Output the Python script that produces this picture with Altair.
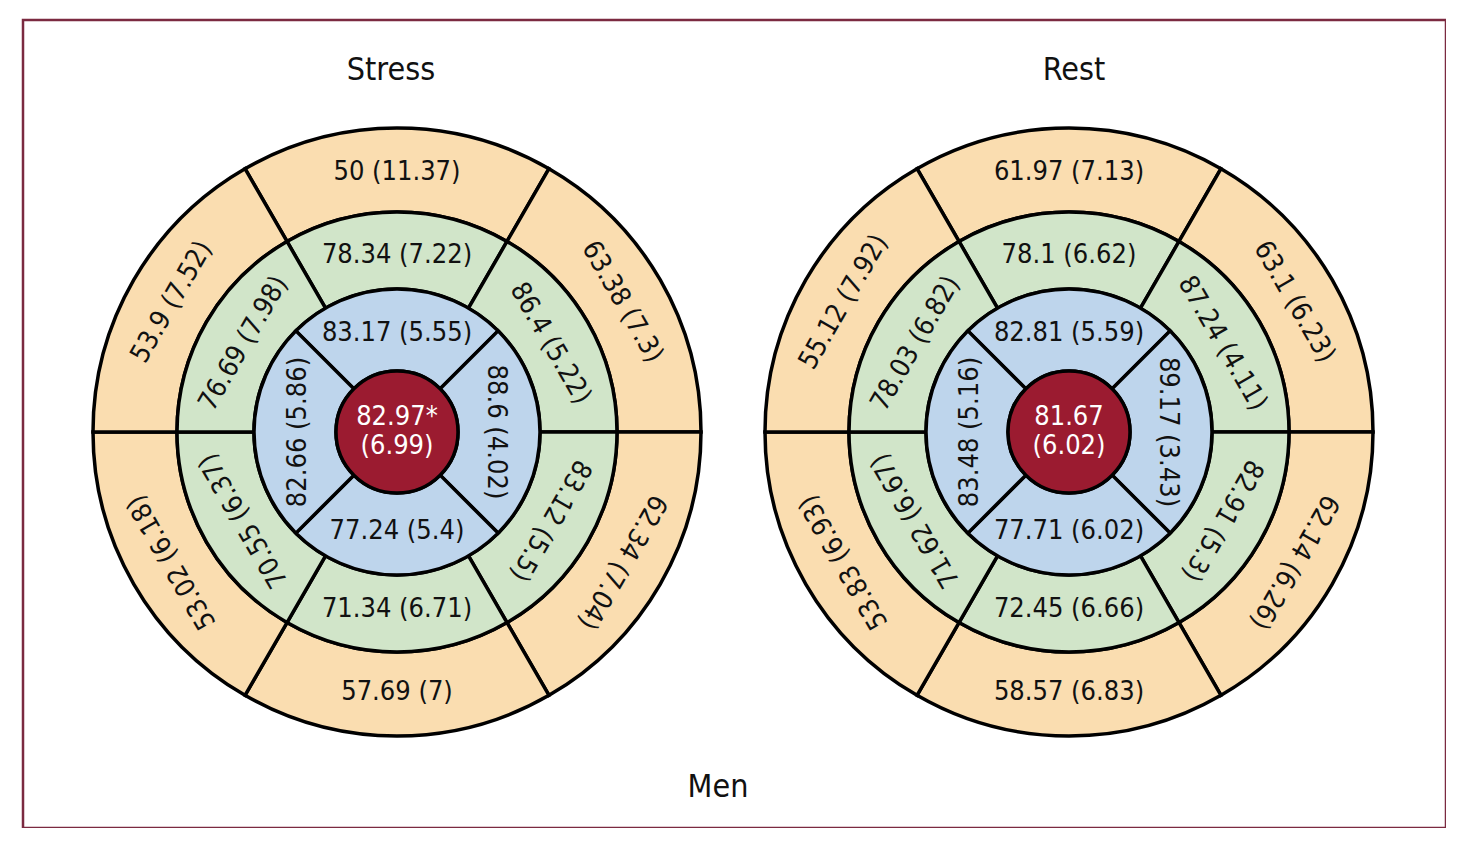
import altair as alt
import pandas as pd
import math

# ---------------- data ----------------
panels = ["Stress", "Rest"]

# basal ring, clockwise from top: top, upper-right, lower-right, bottom, lower-left, upper-left
stress_basal_mean = [50, 63.38, 62.34, 57.69, 53.02, 53.9]
stress_basal_sd = [11.37, 7.3, 7.04, 7, 6.18, 7.52]
stress_mid_mean = [78.34, 86.4, 83.12, 71.34, 70.55, 76.69]
stress_mid_sd = [7.22, 5.22, 5.5, 6.71, 6.37, 7.98]
# apical ring, clockwise from top: top, right, bottom, left
stress_apical_mean = [83.17, 88.6, 77.24, 82.66]
stress_apical_sd = [5.55, 4.02, 5.4, 5.86]
stress_apex = (82.97, 6.99, "*")

rest_basal_mean = [61.97, 63.1, 62.14, 58.57, 53.83, 55.12]
rest_basal_sd = [7.13, 6.23, 6.26, 6.83, 6.93, 7.92]
rest_mid_mean = [78.1, 87.24, 82.91, 72.45, 71.62, 78.03]
rest_mid_sd = [6.62, 4.11, 5.3, 6.66, 6.67, 6.82]
rest_apical_mean = [82.81, 89.17, 77.71, 83.48]
rest_apical_sd = [5.59, 3.43, 6.02, 5.16]
rest_apex = (81.67, 6.02, "")

footer = "Men"

# ---------------- styling ----------------
FONT = "DejaVu Sans Condensed, Liberation Sans Narrow, sans-serif"
COL = {"basal": "#FADDB0", "mid": "#D1E5C9", "apical": "#BED5EC", "apex": "#9B1B30"}
R = {"basal": (304, 220), "mid": (220, 143), "apical": (143, 61)}
TR = {"basal": 260, "mid": 177, "apical": 99}
W, H = 1423, 808
CX = [374, 1046]
CY = 412
TITLE_DX = [-6, 5]


def fmt(v):
    return f"{v:g}"


panel_rings = {
    "Stress": [("basal", stress_basal_mean, stress_basal_sd),
               ("mid", stress_mid_mean, stress_mid_sd),
               ("apical", stress_apical_mean, stress_apical_sd)],
    "Rest": [("basal", rest_basal_mean, rest_basal_sd),
             ("mid", rest_mid_mean, rest_mid_sd),
             ("apical", rest_apical_mean, rest_apical_sd)],
}
panel_apex = {"Stress": stress_apex, "Rest": rest_apex}

layers = []
for pi, p in enumerate(panels):
    xv = alt.value(CX[pi])
    yv = alt.value(CY)
    for ring, means, sds in panel_rings[p]:
        n = len(means)
        step = 360 / n
        rows = []
        for i, (m, s) in enumerate(zip(means, sds)):
            c = i * step
            t0 = c - step / 2
            t1 = c + step / 2
            if t0 < 0:
                t0 += 360
                t1 += 360
            ang = 0 if abs(c - 180) < 1e-9 else c
            rows.append({
                "t0": math.radians(t0), "t1": math.radians(t1),
                "tm": math.radians(c), "ang": ang,
                "label": f"{fmt(m)} ({fmt(s)})",
            })
        d = pd.DataFrame(rows)
        r0, r1 = R[ring]
        arcs = alt.Chart(d).mark_arc(
            radius=r0, radius2=r1, fill=COL[ring], stroke="black",
            strokeWidth=3.5
        ).encode(
            x=xv, y=yv,
            theta=alt.Theta("t0:Q", scale=None, stack=False),
            theta2="t1:Q",
        )
        txt = alt.Chart(d).mark_text(
            radius=TR[ring], align="center", baseline="middle",
            font=FONT, fontSize=27, color="#111111"
        ).encode(
            x=xv, y=yv,
            theta=alt.Theta("tm:Q", scale=None),
            angle=alt.Angle("ang:Q", scale=None),
            text="label:N",
        )
        layers += [arcs, txt]

    a = panel_apex[p]
    apex_df = pd.DataFrame({"label": [f"{fmt(a[0])}{a[2]}\n({fmt(a[1])})"]})
    apex = alt.Chart(apex_df).mark_arc(
        radius=61, radius2=0, fill=COL["apex"], stroke="black", strokeWidth=3.5
    ).encode(x=xv, y=yv, theta=alt.value(0), theta2=alt.value(2 * math.pi))
    apex_txt = alt.Chart(apex_df).mark_text(
        align="center", baseline="middle", font=FONT, fontSize=27,
        color="white", lineBreak="\n", lineHeight=29, dy=-15
    ).encode(x=xv, y=yv, text="label:N")
    title = alt.Chart(pd.DataFrame({"panel": [p]})).mark_text(
        align="center", baseline="middle", font=FONT, fontSize=32,
        color="#111111", dx=TITLE_DX[pi]
    ).encode(x=xv, y=alt.value(50), text="panel:N")
    layers += [apex, apex_txt, title]

foot = alt.Chart(pd.DataFrame({"label": [footer]})).mark_text(
    align="center", baseline="middle", font=FONT, fontSize=32, color="#111111"
).encode(x=alt.value(695), y=alt.value(767), text="label:N")

chart = alt.layer(*layers, foot).properties(
    width=W, height=H,
    autosize=alt.AutoSizeParams(type="none"),
    padding={"left": 15, "top": 12, "right": 0, "bottom": 0},
).configure_view(stroke="#7B2A40", strokeWidth=2.5)

chart.save("out.html", embed_options={"renderer": "svg", "actions": False})
